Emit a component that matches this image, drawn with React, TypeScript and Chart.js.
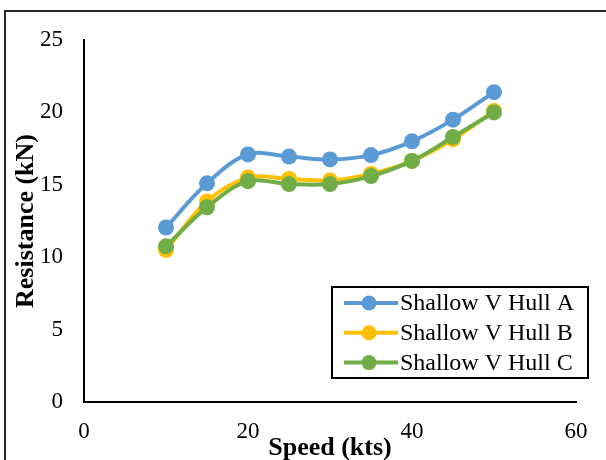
import React, { useEffect, useRef } from "react";
import { Chart, registerables } from "chart.js";

Chart.register(...registerables);

// ---- data ----
const speeds = [10, 15, 20, 25, 30, 35, 40, 45, 50];
const seriesNames = ["Shallow V Hull A", "Shallow V Hull B", "Shallow V Hull C"];
const hullA = [12.05, 15.1, 17.1, 16.95, 16.75, 17.05, 18.0, 19.5, 21.4];
const hullB = [10.5, 13.85, 15.5, 15.4, 15.3, 15.75, 16.65, 18.15, 20.1];
const hullC = [10.75, 13.45, 15.25, 15.05, 15.05, 15.6, 16.65, 18.3, 20.0];
const xTicks = [0, 20, 40, 60];
const yTicks = [0, 5, 10, 15, 20, 25];
const xTitle = "Speed (kts)";
const yTitle = "Resistance (kN)";

const colors = ["#5B9BD5", "#FFC000", "#70AD47"];
const FONT = "'Liberation Serif', 'Times New Roman', serif";

const framePlugin = {
  id: "frame",
  beforeDraw(chart: any) {
    const ctx = chart.ctx;
    ctx.save();
    ctx.fillStyle = "#ffffff";
    ctx.fillRect(0, 0, chart.width, chart.height);
    ctx.strokeStyle = "#262626";
    ctx.lineWidth = 2;
    ctx.strokeRect(5, 11, chart.width + 10, chart.height + 10);
    ctx.restore();
  },
};

const boxLegendPlugin = {
  id: "boxLegend",
  afterDraw(chart: any) {
    const ctx = chart.ctx;
    const area = chart.chartArea;
    const right = area.right + 12;
    const bottom = area.bottom - 24;
    const left = right - 256;
    const top = bottom - 91;
    ctx.save();
    ctx.fillStyle = "#ffffff";
    ctx.fillRect(left, top, right - left, bottom - top);
    ctx.strokeStyle = "#000000";
    ctx.lineWidth = 2;
    ctx.strokeRect(left, top, right - left, bottom - top);
    ctx.font = `24px ${FONT}`;
    ctx.textBaseline = "middle";
    ctx.textAlign = "left";
    chart.data.datasets.forEach((ds: any, i: number) => {
      const y = top + 16 + i * 29.8;
      const x0 = left + 12;
      ctx.strokeStyle = ds.borderColor;
      ctx.lineWidth = 4;
      ctx.beginPath();
      ctx.moveTo(x0, y);
      ctx.lineTo(x0 + 54, y);
      ctx.stroke();
      ctx.fillStyle = ds.backgroundColor;
      ctx.beginPath();
      ctx.arc(x0 + 25, y, 7.5, 0, Math.PI * 2);
      ctx.fill();
      ctx.fillStyle = "#000000";
      ctx.fillText(ds.label, x0 + 56, y + 1);
    });
    ctx.restore();
  },
};

export default function App() {
  const ref = useRef<HTMLCanvasElement | null>(null);

  useEffect(() => {
    if (!ref.current) return;
    const series = [hullA, hullB, hullC];
    const chart = new Chart(ref.current, {
      type: "line",
      data: {
        datasets: series.map((vals, i) => ({
          label: seriesNames[i],
          data: speeds.map((s, j) => ({ x: s, y: vals[j] })),
          order: series.length - i,
          borderColor: colors[i],
          backgroundColor: colors[i],
          pointBackgroundColor: colors[i],
          pointBorderColor: colors[i],
          pointRadius: 8,
          pointBorderWidth: 0,
          borderWidth: 4,
          tension: 0.35,
          fill: false,
        })),
      },
      options: {
        animation: false,
        responsive: false,
        layout: { padding: { left: 0, right: 30, top: 40, bottom: 0 } },
        plugins: {
          legend: { display: false },
          tooltip: { enabled: false },
        },
        scales: {
          x: {
            type: "linear",
            min: 0,
            max: 60,
            afterBuildTicks: (scale: any) => {
              scale.ticks = xTicks.map((v) => ({ value: v }));
            },
            afterFit: (scale: any) => {
              scale.height = 58;
            },
            grid: { display: false, drawTicks: false },
            border: { display: true, color: "#000000", width: 2 },
            ticks: {
              color: "#000000",
              font: { family: FONT, size: 23 },
              padding: 16,
              maxRotation: 0,
            },
            title: {
              display: true,
              text: xTitle,
              color: "#000000",
              font: { family: FONT, size: 26, weight: "bold", lineHeight: 1 },
              padding: { top: 0, bottom: -1.5 },
            },
          },
          y: {
            type: "linear",
            min: 0,
            max: 25,
            afterBuildTicks: (scale: any) => {
              scale.ticks = yTicks.map((v) => ({ value: v }));
            },
            afterFit: (scale: any) => {
              scale.width = 84;
            },
            grid: { display: false, drawTicks: false },
            border: { display: true, color: "#000000", width: 2 },
            ticks: {
              color: "#000000",
              font: { family: FONT, size: 23 },
              padding: 21,
            },
            title: {
              display: true,
              text: yTitle,
              color: "#000000",
              font: { family: FONT, size: 26, weight: "bold", lineHeight: 1 },
              padding: { top: 13, bottom: 0 },
            },
          },
        },
      },
      plugins: [framePlugin, boxLegendPlugin],
    } as any);
    return () => chart.destroy();
  }, []);

  return (
    <div style={{ position: "absolute", left: 0, top: 0, width: 606, height: 460 }}>
      <canvas ref={ref} width={606} height={460} />
    </div>
  );
}
